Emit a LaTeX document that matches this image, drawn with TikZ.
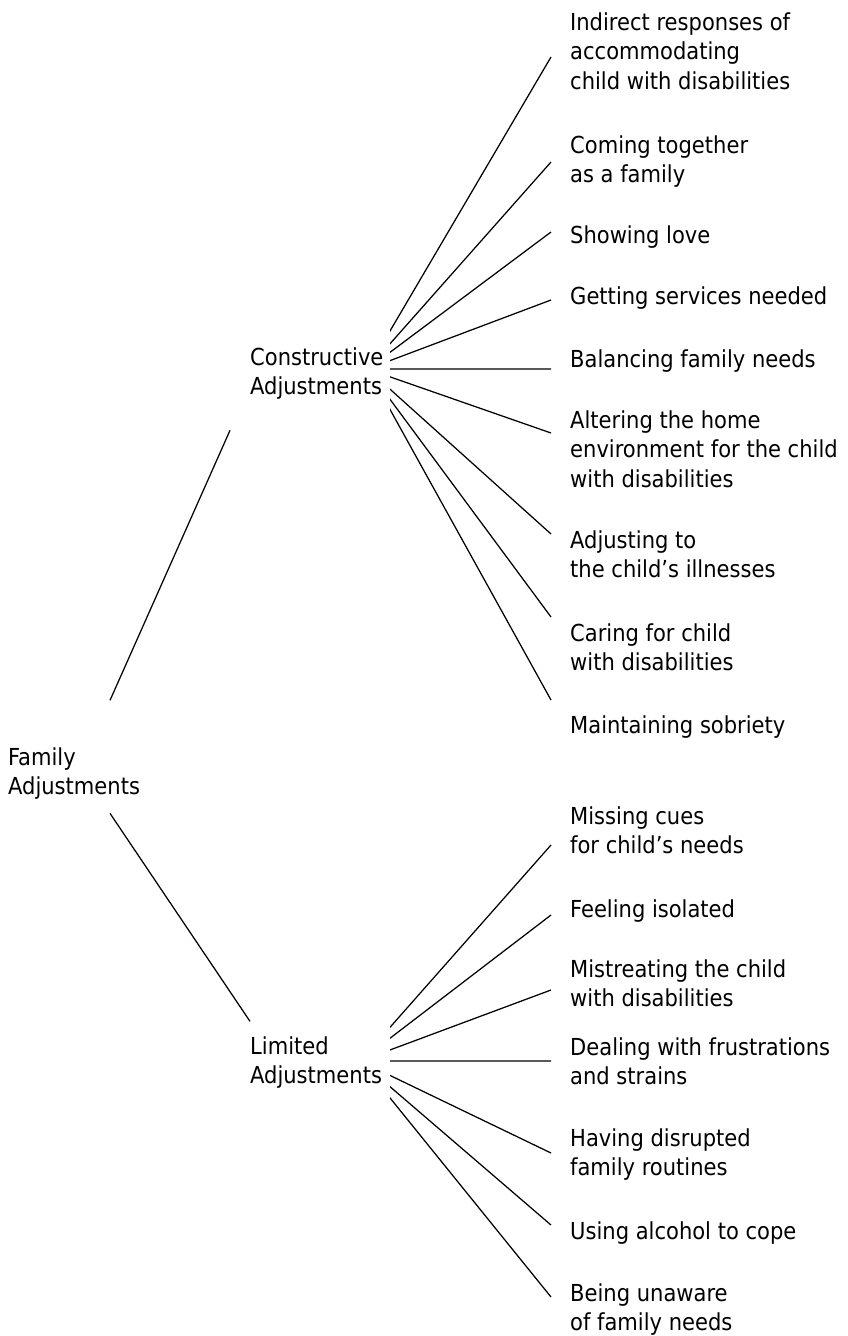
\documentclass[tikz,border=0pt]{standalone}
\usepackage{fontspec}
\setmainfont{DejaVu Sans Condensed}
\usepackage{tikz}

\begin{document}
\begin{tikzpicture}[x=1pt,y=-1pt,
        lbl/.style={anchor=north west,inner sep=0pt,align=left,yshift=20.65pt,
            font=\fontsize{23.4}{29.5}\selectfont},
        link/.style={line width=1.25pt}]
        \useasboundingbox (0,0) rectangle (847,1336);
        \node[lbl] (fam) at (8,765) {\strut Family\\Adjustments\strut};
        \node[lbl] (cons) at (250,365) {\strut Constructive\\Adjustments\strut};
        \node[lbl] (lim) at (250,1054) {\strut Limited\\Adjustments\strut};
        \node[lbl] (c1) at (570,30) {\strut Indirect responses of\\accommodating\\child with disabilities\strut};
        \node[lbl] (c2) at (570,153) {\strut Coming together\\as a family\strut};
        \node[lbl] (c3) at (570,243) {\strut Showing love\strut};
        \node[lbl] (c4) at (570,304) {\strut Getting services needed\strut};
        \node[lbl] (c5) at (570,367) {\strut Balancing family needs\strut};
        \node[lbl] (c6) at (570,428) {\strut Altering the home\\environment for the child\\with disabilities\strut};
        \node[lbl] (c7) at (570,548) {\strut Adjusting to\\the child’s illnesses\strut};
        \node[lbl] (c8) at (570,641) {\strut Caring for child\\with disabilities\strut};
        \node[lbl] (c9) at (570,733) {\strut Maintaining sobriety\strut};
        \node[lbl] (l1) at (570,824) {\strut Missing cues\\for child’s needs\strut};
        \node[lbl] (l2) at (570,917) {\strut Feeling isolated\strut};
        \node[lbl] (l3) at (570,977) {\strut Mistreating the child\\with disabilities\strut};
        \node[lbl] (l4) at (570,1055) {\strut Dealing with frustrations\\and strains\strut};
        \node[lbl] (l5) at (570,1146) {\strut Having disrupted\\family routines\strut};
        \node[lbl] (l6) at (570,1239) {\strut Using alcohol to cope\strut};
        \node[lbl] (l7) at (570,1301) {\strut Being unaware\\of family needs\strut};
        \coordinate (k1) at (551,57);
        \coordinate (k2) at (551,162);
        \coordinate (k3) at (551,232);
        \coordinate (k4) at (551,300);
        \coordinate (k5) at (551,369);
        \coordinate (k6) at (551,433);
        \coordinate (k7) at (551,534);
        \coordinate (k8) at (551,617);
        \coordinate (k9) at (551,700);
        \coordinate (m1) at (551,845);
        \coordinate (m2) at (551,915);
        \coordinate (m3) at (551,990);
        \coordinate (m4) at (551,1061);
        \coordinate (m5) at (551,1153);
        \coordinate (m6) at (551,1225);
        \coordinate (m7) at (551,1297);
        \coordinate (consfan) at ([shift={(-16,-5)}]cons.east);
        \coordinate (limfan) at ([shift={(-22,-2)}]lim.east);
        \draw[link] ([shift={(102,-44)}]fam.north west) -- ([shift={(-20,86)}]cons.north west);
        \draw[link] ([shift={(102,69)}]fam.north west) -- ([shift={(0,-12)}]lim.north west);
        \begin{scope}
            \clip (390,0) rectangle (847,1336);
            \foreach \k in {1,...,9} \draw[link] (consfan) -- (k\k);
            \foreach \m in {1,...,7} \draw[link] (limfan) -- (m\m);
        \end{scope}
    \end{tikzpicture}
\end{document}
